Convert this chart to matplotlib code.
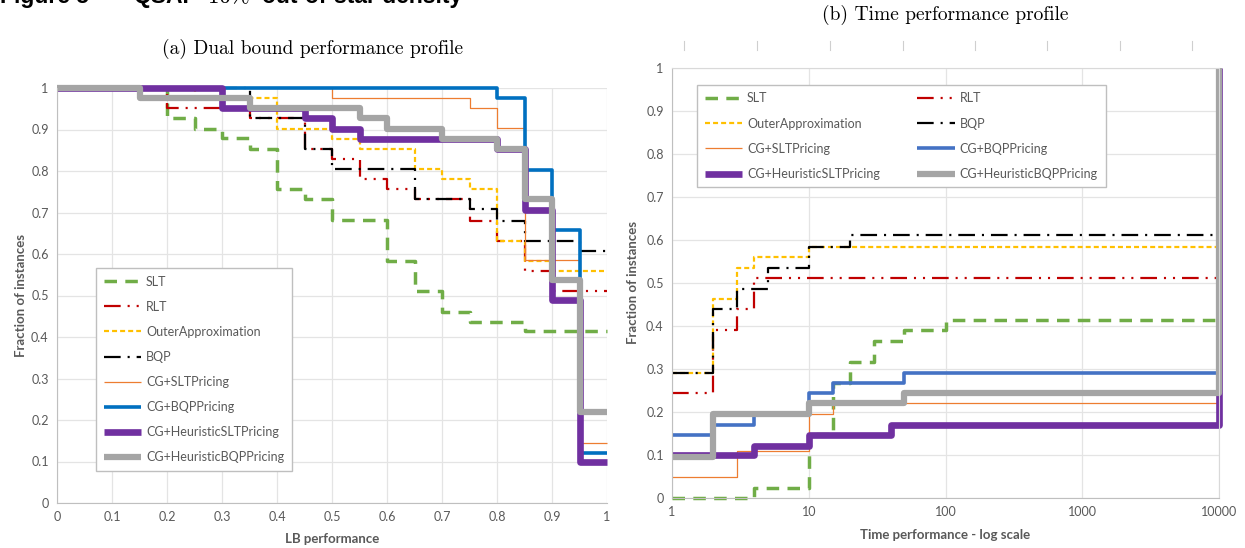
import numpy as np
import matplotlib
matplotlib.use('Agg')
import matplotlib.pyplot as plt
from matplotlib.lines import Line2D

#################################
# Data

names = ['SLT', 'RLT', 'OuterApproximation', 'BQP', 'CG+SLTPricing',
         'CG+BQPPricing', 'CG+HeuristicSLTPricing', 'CG+HeuristicBQPPricing']

# (a) dual bound profile: step positions and fractions
lb_slt_x = [0, 0.2, 0.25, 0.3, 0.35, 0.4, 0.45, 0.5, 0.6, 0.65, 0.7, 0.75, 0.85, 1.0]
lb_slt_y = [1, 0.927, 0.901, 0.88, 0.853, 0.757, 0.733, 0.682, 0.583, 0.51, 0.46, 0.436, 0.415, 0.415]
lb_rlt_x = [0, 0.2, 0.35, 0.45, 0.5, 0.55, 0.6, 0.65, 0.75, 0.8, 0.85, 0.9, 1.0]
lb_rlt_y = [1, 0.952, 0.927, 0.853, 0.829, 0.781, 0.757, 0.733, 0.68, 0.632, 0.56, 0.512, 0.512]
lb_oa_x = [0, 0.25, 0.4, 0.5, 0.55, 0.65, 0.7, 0.75, 0.8, 0.85, 0.9, 1.0]
lb_oa_y = [1, 0.976, 0.901, 0.878, 0.853, 0.805, 0.781, 0.757, 0.632, 0.583, 0.56, 0.56]
lb_bqp_x = [0, 0.35, 0.45, 0.5, 0.65, 0.75, 0.8, 0.85, 0.95, 1.0]
lb_bqp_y = [1, 0.927, 0.853, 0.805, 0.733, 0.708, 0.68, 0.632, 0.607, 0.607]
lb_cgslt_x = [0, 0.5, 0.75, 0.8, 0.85, 0.95, 1.0]
lb_cgslt_y = [1, 0.976, 0.952, 0.903, 0.585, 0.145, 0.145]
lb_cgbqp_x = [0, 0.8, 0.85, 0.9, 0.95, 1.0]
lb_cgbqp_y = [1, 0.976, 0.802, 0.658, 0.12, 0.12]
lb_hslt_x = [0, 0.3, 0.45, 0.5, 0.55, 0.8, 0.85, 0.9, 0.95, 1.0]
lb_hslt_y = [1, 0.952, 0.927, 0.902, 0.878, 0.853, 0.707, 0.488, 0.098, 0.098]
lb_hbqp_x = [0, 0.15, 0.35, 0.55, 0.6, 0.7, 0.8, 0.85, 0.9, 0.95, 1.0]
lb_hbqp_y = [1, 0.976, 0.952, 0.927, 0.902, 0.878, 0.853, 0.732, 0.537, 0.22, 0.22]

# (b) time profile
t_slt_x = [1, 4, 10, 15, 20, 30, 50, 100, 10000]
t_slt_y = [0, 0.024, 0.148, 0.267, 0.317, 0.366, 0.39, 0.415, 0.415]
t_rlt_x = [1, 2, 3, 4, 10000]
t_rlt_y = [0.244, 0.39, 0.44, 0.512, 0.512]
t_oa_x = [1, 2, 3, 4, 10, 10000]
t_oa_y = [0.291, 0.463, 0.535, 0.56, 0.584, 0.584]
t_bqp_x = [1, 2, 3, 5, 10, 20, 10000]
t_bqp_y = [0.291, 0.44, 0.486, 0.535, 0.584, 0.611, 0.611]
t_cgslt_x = [1, 3, 10, 15, 10000]
t_cgslt_y = [0.048, 0.11, 0.196, 0.22, 0.22]
t_cgbqp_x = [1, 2, 4, 10, 15, 50, 10000]
t_cgbqp_y = [0.146, 0.17, 0.195, 0.244, 0.268, 0.29, 0.29]
t_hslt_x = [1, 4, 10, 40, 10000, 10000]
t_hslt_y = [0.1, 0.121, 0.146, 0.17, 0.17, 1.0]
t_hbqp_x = [1, 2, 10, 50, 10000, 10000]
t_hbqp_y = [0.096, 0.195, 0.22, 0.244, 0.244, 1.0]

lb_data = [(lb_slt_x, lb_slt_y), (lb_rlt_x, lb_rlt_y), (lb_oa_x, lb_oa_y), (lb_bqp_x, lb_bqp_y),
           (lb_cgslt_x, lb_cgslt_y), (lb_cgbqp_x, lb_cgbqp_y), (lb_hslt_x, lb_hslt_y), (lb_hbqp_x, lb_hbqp_y)]
t_data = [(t_slt_x, t_slt_y), (t_rlt_x, t_rlt_y), (t_oa_x, t_oa_y), (t_bqp_x, t_bqp_y),
          (t_cgslt_x, t_cgslt_y), (t_cgbqp_x, t_cgbqp_y), (t_hslt_x, t_hslt_y), (t_hbqp_x, t_hbqp_y)]
#################################


#################################
# Styles (Excel look)
plt.rcParams['lines.scale_dashes'] = False
plt.rcParams['font.family'] = ['Lato', 'DejaVu Sans']

txt_c = '#595959'
grid_c = '#e4e4e4'
styles = [
    dict(color='#70AD47', lw=2.5, dashes=(9, 6)),
    dict(color='#C00000', lw=1.6, dashes=(12, 5, 1.5, 5, 1.5, 5)),
    dict(color='#FFC000', lw=1.6, dashes=(3.6, 2.2)),
    dict(color='black', lw=1.6, dashes=(12, 5, 1.5, 5)),
    dict(color='#ED7D31', lw=0.9),
    dict(color='#0070C0', lw=2.6),
    dict(color='#7030A0', lw=4.8),
    dict(color='#A5A5A5', lw=4.5),
]
t_styles = [dict(s) for s in styles]
t_styles[5]['color'] = '#4472C4'

W, H = 1245, 548
fig = plt.figure(figsize=[W/100., H/100.], dpi=100)


def px_box(x0, x1, ytop, ybot):
    return [x0/W, 1-ybot/H, (x1-x0)/W, (ybot-ytop)/H]


def style_axes(ax):
    ax.tick_params(length=0, labelsize=9, labelcolor=txt_c, pad=6)
    ax.grid(True, color=grid_c, lw=0.9)
    ax.set_axisbelow(True)


leg_kw = dict(fontsize=9, labelcolor=txt_c, fancybox=False, framealpha=1, edgecolor='#bfbfbf',
              handlelength=3.0, handletextpad=0.4, labelspacing=1.05, borderaxespad=0,
              borderpad=0.6, bbox_transform=fig.transFigure, loc='upper left')

#################################
# (a) Dual bound performance profile
ax = fig.add_axes(px_box(57, 607, 88, 503))
for (x, y), st, nm in zip(lb_data, styles, names):
    ax.step(x, y, where='post', label=nm, clip_on=False, solid_capstyle='butt',
            dash_capstyle='butt', **st)
ax.set_xlim(0, 1)
ax.set_ylim(0, 1)
ticks = np.round(np.arange(0, 1.01, 0.1), 1)
tlabels = ['0'] + ['%.1f' % t for t in ticks[1:-1]] + ['1']
ax.set_xticks(ticks)
ax.set_xticklabels(tlabels)
ax.set_yticks(ticks)
ax.set_yticklabels(tlabels)
style_axes(ax)
for s in ['top', 'right']:
    ax.spines[s].set_visible(False)
for s in ['left', 'bottom']:
    ax.spines[s].set_color('#bfbfbf')
ax.set_xlabel('LB performance', fontsize=9.5, fontweight='bold', color=txt_c, labelpad=7)
ax.set_ylabel('Fraction of instances', fontsize=9.5, fontweight='bold', color=txt_c, labelpad=3)
leg = ax.legend(bbox_to_anchor=(96/W, 1-268/H), **leg_kw)
leg.get_frame().set_linewidth(1.0)

fig.text(312/W, 1-49/H, '(a) Dual bound performance profile', family='cmr10', fontsize=14,
         ha='center', va='center')

#################################
# (b) Time performance profile
ax = fig.add_axes(px_box(672, 1219, 68, 498))
lines = []
for (x, y), st, nm in zip(t_data, t_styles, names):
    ln, = ax.step(x, y, where='post', label=nm, clip_on=False, solid_capstyle='butt',
                  dash_capstyle='butt', **st)
    lines.append(ln)
ax.set_xscale('log')
ax.set_xlim(1, 10000)
ax.set_ylim(0, 1)
ax.set_xticks([1, 10, 100, 1000, 10000])
ax.set_xticklabels(['1', '10', '100', '1000', '10000'])
ax.minorticks_off()
ax.set_yticks(ticks)
ax.set_yticklabels(tlabels)
style_axes(ax)
for s in ax.spines.values():
    s.set_color('#d9d9d9')
ax.spines['left'].set_color('#bfbfbf')
ax.spines['bottom'].set_color('#bfbfbf')
ax.set_xlabel('Time performance - log scale', fontsize=9.5, fontweight='bold', color=txt_c, labelpad=8)
ax.set_ylabel('Fraction of instances', fontsize=9.5, fontweight='bold', color=txt_c, labelpad=5)
# row-major legend order like the original
order = [0, 2, 4, 6, 1, 3, 5, 7]
leg = ax.legend([lines[i] for i in order], [names[i] for i in order],
                bbox_to_anchor=(697/W, 1-85/H), ncol=2, columnspacing=3.0, **leg_kw)
leg.get_frame().set_linewidth(1.0)

fig.text(945/W, 1-15/H, '(b) Time performance profile', family='cmr10', fontsize=14,
         ha='center', va='center')

# small marks above the right chart
for xm in [684, 757, 830, 903, 975, 1047, 1120, 1192]:
    fig.add_artist(Line2D([xm/W, xm/W], [1-41/H, 1-50/H], color='#cfcfcf', lw=0.8))

# header, clipped by the top edge as in the original page crop
fig.text(0/W, 1-3/H, 'Figure 5', fontsize=16.5, fontweight='bold', family='Liberation Sans', va='baseline')
fig.text(133/W, 1-3/H, 'QSAP', fontsize=16.5, fontweight='bold', family='Liberation Sans', va='baseline')
fig.text(208/W, 1-3/H, '10%', fontsize=16.5, family='cmr10', va='baseline')
fig.text(262/W, 1-3/H, 'out-of-star density', fontsize=16.5, fontweight='bold', family='Liberation Sans',
         va='baseline')

plt.savefig('out.png', dpi=100)
#################################
